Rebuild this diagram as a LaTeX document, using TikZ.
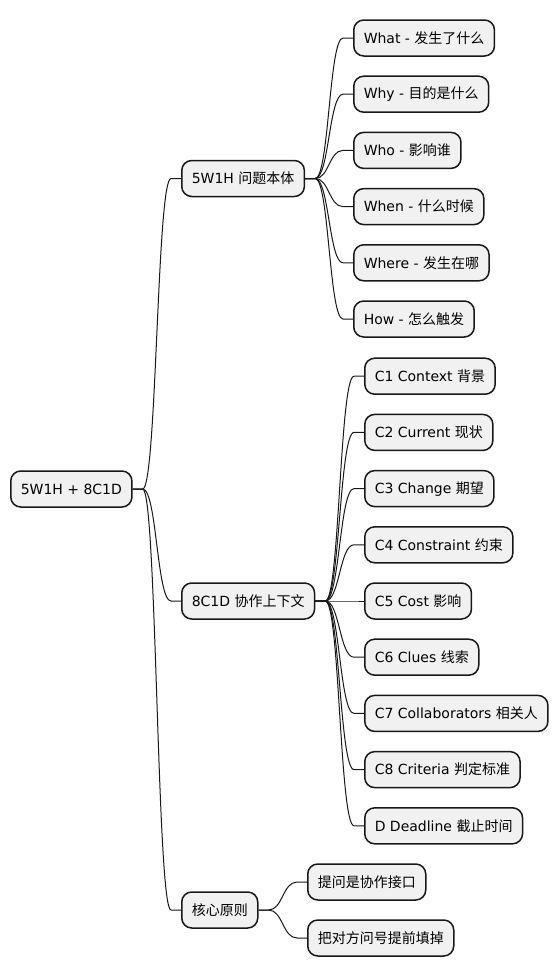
\documentclass[tikz,border=0pt]{standalone}
\usepackage{fontspec}
\setmainfont{DejaVu Sans}
\newfontfamily\zh{Noto Sans CJK SC}
\usetikzlibrary{calc}
\definecolor{boxfill}{HTML}{F1F1F1}
\definecolor{boxline}{HTML}{181818}
\tikzset{
  box/.style={draw=boxline, fill=boxfill, line width=1.5pt, rounded corners=10pt,
    inner xsep=10pt, minimum height=36pt, anchor=west, font=\fontsize{14}{16}\selectfont},
  edge/.style={draw=boxline, line width=1pt}
}
\begin{document}
\begin{tikzpicture}[x=1pt,y=-1pt]
\useasboundingbox (0,0) rectangle (558,978);
\fill[white] (0,0) rectangle (558,978);

% Text Node
\node [box] (root) at (10,489) {5W1H + 8C1D};
% Text Node
\node [box] (wh) at (181,178.5) {5W1H {\zh 问题本体}};
% Text Node
\node [box] (cd) at (181,601) {8C1D {\zh 协作上下文}};
% Text Node
\node [box] (core) at (181,910) {\zh 核心原则};

% Text Node
\node [box] (wh1) at (353,38) {What - {\zh 发生了什么}};
% Text Node
\node [box] (wh2) at (353,94.2) {Why - {\zh 目的是什么}};
% Text Node
\node [box] (wh3) at (353,150.4) {Who - {\zh 影响谁}};
% Text Node
\node [box] (wh4) at (353,206.6) {When - {\zh 什么时候}};
% Text Node
\node [box] (wh5) at (353,262.8) {Where - {\zh 发生在哪}};
% Text Node
\node [box] (wh6) at (353,319) {How - {\zh 怎么触发}};

% Text Node
\node [box] (cd1) at (364,376.2) {C1 Context {\zh 背景}};
% Text Node
\node [box] (cd2) at (364,432.4) {C2 Current {\zh 现状}};
% Text Node
\node [box] (cd3) at (364,488.6) {C3 Change {\zh 期望}};
% Text Node
\node [box] (cd4) at (364,544.8) {C4 Constraint {\zh 约束}};
% Text Node
\node [box] (cd5) at (364,601) {C5 Cost {\zh 影响}};
% Text Node
\node [box] (cd6) at (364,657.2) {C6 Clues {\zh 线索}};
% Text Node
\node [box] (cd7) at (364,713.4) {C7 Collaborators {\zh 相关人}};
% Text Node
\node [box] (cd8) at (364,769.6) {C8 Criteria {\zh 判定标准}};
% Text Node
\node [box] (cd9) at (364,825.8) {D Deadline {\zh 截止时间}};

% Text Node
\node [box] (core1) at (307,882) {\zh 提问是协作接口};
% Text Node
\node [box] (core2) at (307,938) {\zh 把对方问号提前填掉};

%Curved Lines
\foreach \a/\b in {root/wh, root/cd, root/core,
    wh/wh1, wh/wh2, wh/wh3, wh/wh4, wh/wh5, wh/wh6,
    cd/cd1, cd/cd2, cd/cd3, cd/cd4, cd/cd5, cd/cd6, cd/cd7, cd/cd8, cd/cd9,
    core/core1, core/core2}
  \draw [edge] let \p1=(\a.east), \p2=(\b.west) in
    (\p1) -- (\x1+10pt,\y1)
    .. controls ({(\x1+\x2)/2},\y1) and ({(\x1+\x2)/2},\y2) .. (\x2-10pt,\y2)
    -- (\p2);

\end{tikzpicture}
\end{document}
